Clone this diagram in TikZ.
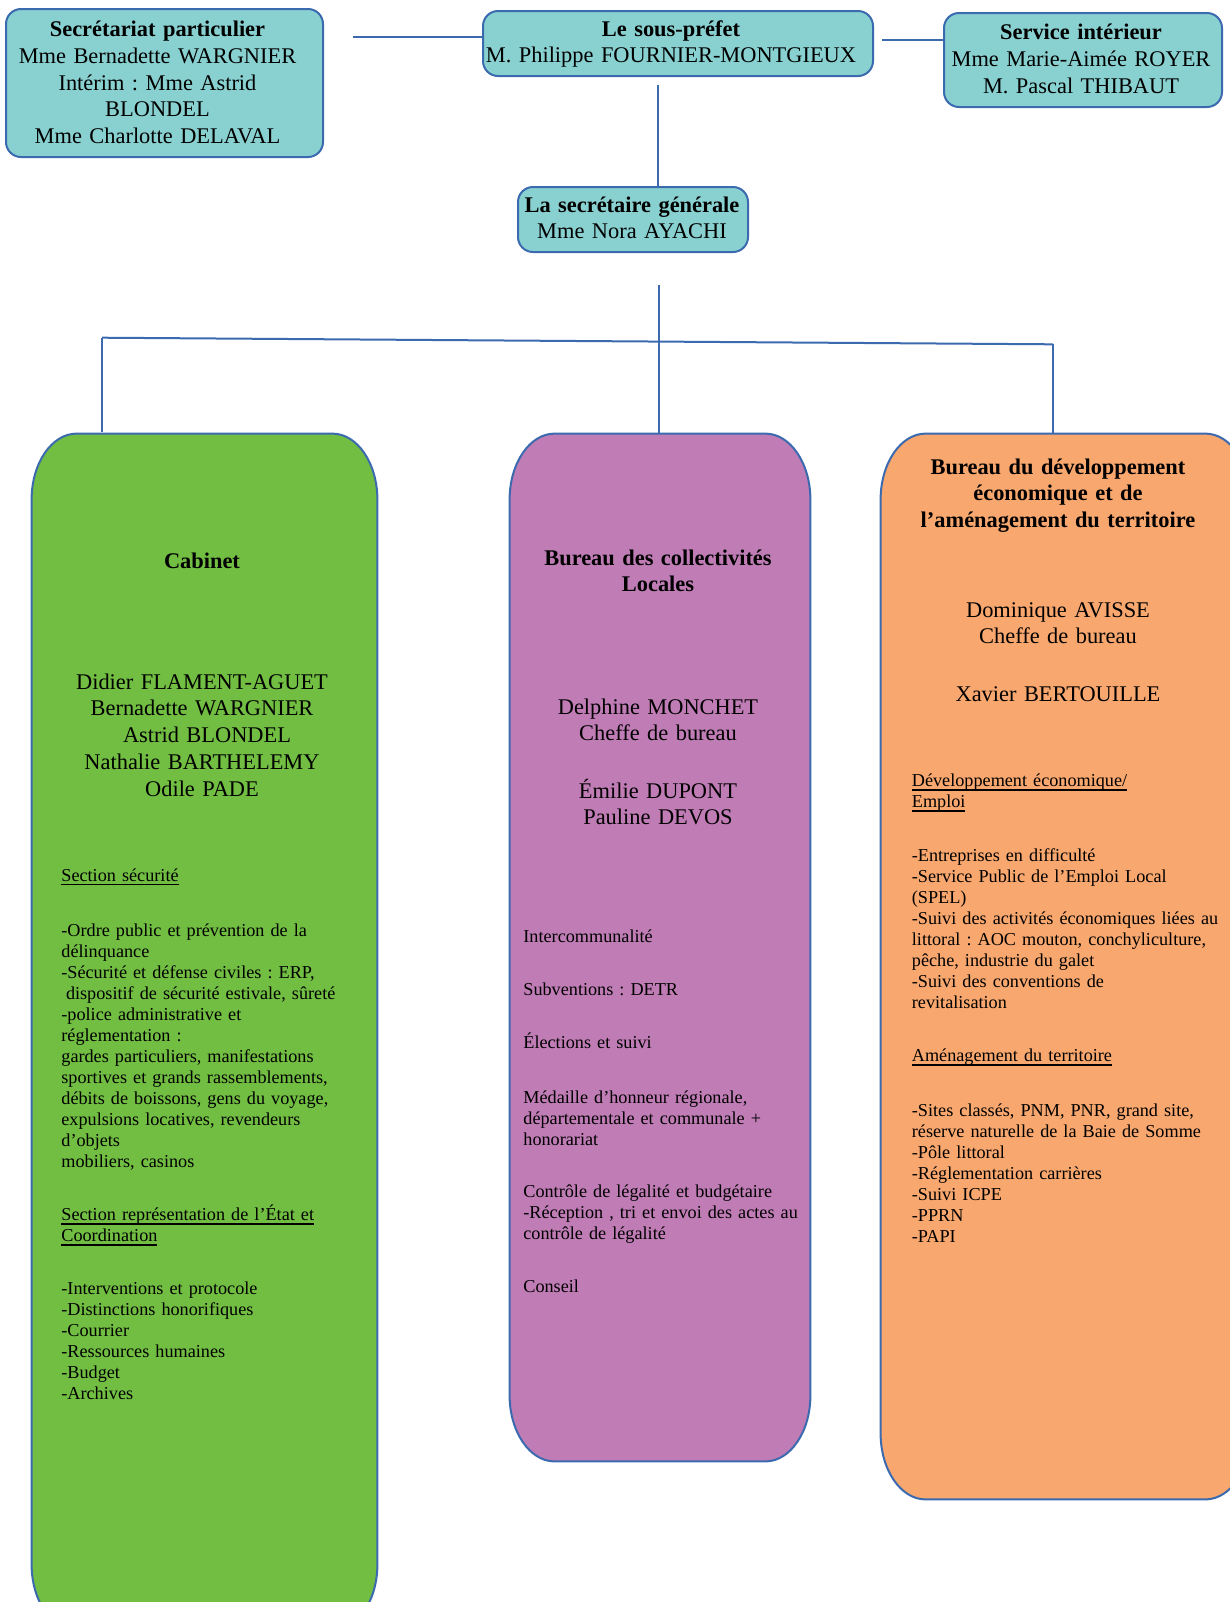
\documentclass[tikz,border=0pt]{standalone}
\usepackage{fontspec}
\setmainfont{Liberation Serif}
\frenchspacing
\definecolor{trait}{HTML}{3B6AAF}
\definecolor{bleuchef}{HTML}{89D1D0}
\definecolor{vertcab}{HTML}{71BE43}
\definecolor{violetcol}{HTML}{BF7CB5}
\definecolor{orangeter}{HTML}{F8A76E}
\newcommand{\grand}{\fontsize{11.2pt}{13.4pt}\selectfont}
\newcommand{\petit}{\fontsize{9.1pt}{10.5pt}\selectfont}
\newcommand{\rubrique}[1]{\setbox0=\hbox{#1}\leavevmode\rlap{\rule[-2pt]{\wd0}{0.65pt}}\box0}
\newcommand{\bureau}[2]{
  \draw[line width=1pt, draw=trait, fill=#2]
    ([xshift=22.5pt]#1.north west) -- ([xshift=-22.5pt]#1.north east)
    arc[start angle=90, end angle=0, x radius=22.5pt, y radius=33pt]
    -- ([yshift=33pt]#1.south east)
    arc[start angle=0, end angle=-90, x radius=22.5pt, y radius=33pt]
    -- ([xshift=22.5pt]#1.south west)
    arc[start angle=270, end angle=180, x radius=22.5pt, y radius=33pt]
    -- ([yshift=-33pt]#1.north west)
    arc[start angle=180, end angle=90, x radius=22.5pt, y radius=33pt]
    -- cycle;
}
\tikzset{
  chef/.style={draw=trait, line width=1pt, fill=bleuchef, rounded corners=7.5pt, inner sep=0pt},
  zone/.style={inner sep=0pt},
  titre/.style={font=\grand, text width=#1, align=center, anchor=base, inner sep=0pt},
  titre/.default=160pt,
  liste/.style={font=\petit, text width=#1, align=left, anchor=base west, inner sep=0pt},
  liste/.default=150pt,
  lien/.style={draw=trait, line width=1pt},
  fil/.style={draw=trait, line width=0.7pt}
}

\begin{document}
\begin{tikzpicture}[x=0.5pt, y=-0.5pt]
	\useasboundingbox (0,0) rectangle (1230,1602);
	\clip (0,0) rectangle (1230,1602);
	% direction
	\node[chef, minimum width=158.5pt, minimum height=74pt] (secp) at (164.5,83) {};
	\node[titre=150pt] (secp-t) at (157.5,36.5) {\textbf{Secrétariat particulier}\\Mme Bernadette WARGNIER\\Intérim : Mme Astrid\\BLONDEL\\Mme Charlotte DELAVAL};
	\node[chef, minimum width=195pt, minimum height=32.5pt] (spf) at (678,43.5) {};
	\node[titre=190pt] (spf-t) at (671,36) {\textbf{Le sous-préfet}\\M. Philippe FOURNIER-MONTGIEUX};
	\node[chef, minimum width=139pt, minimum height=47pt] (servi) at (1083,60) {};
	\node[titre=135pt] (servi-t) at (1081,39.5) {\textbf{Service intérieur}\\Mme Marie-Aimée ROYER\\M. Pascal THIBAUT};
	\node[chef, minimum width=115pt, minimum height=32.5pt] (sg) at (633,219.5) {};
	\node[titre=112pt] (sg-t) at (632,212) {\textbf{La secrétaire générale}\\Mme Nora AYACHI};
	% bureaux
	\node[zone, minimum width=172.5pt, minimum height=598pt] (cab) at (204.5,1032) {};
	\node[zone, minimum width=150pt, minimum height=513.5pt] (bcl) at (660,947.5) {};
	\node[zone, minimum width=184.5pt, minimum height=532.5pt] (bdeat) at (1065.5,966.5) {};
	\bureau{cab}{vertcab}
	\bureau{bcl}{violetcol}
	\bureau{bdeat}{orangeter}
	% liens
	\coordinate (secp-l) at (353,37);
	\draw[lien] (secp-l) -- (secp-l -| spf.west);
	\coordinate (servi-l) at (882,40);
	\draw[lien] (servi-l) -- (servi-l -| servi.west);
	\coordinate (spf-b) at (658,85);
	\draw[lien] (spf-b) -- (spf-b |- sg.north);
	\coordinate (sg-b) at (659,285);
	\draw[fil] (sg-b) -- (sg-b |- bcl.north);
	\coordinate (bus-g) at (102,337.7);
	\coordinate (bus-d) at (1053,344.3);
	\draw[lien] (bus-g) -- (bus-d);
	\draw[fil] (bus-g) -- ([yshift=1pt]bus-g |- cab.north);
	\draw[fil] (bus-d) -- (bus-d |- bdeat.north);
	% cabinet
	\node[titre] (cab-t) at (202,568) {\textbf{Cabinet}};
	\node[titre] (cab-n) at (202,689) {Didier FLAMENT-AGUET\\Bernadette WARGNIER\\\hspace*{5pt}Astrid BLONDEL\\Nathalie BARTHELEMY\\Odile PADE};
	\node[liste] (cab-s1) at (61,881) {\rubrique{Section sécurité}};
	\node[liste] (cab-l1) at (61,936) {-Ordre public et prévention de la\\délinquance\\-Sécurité et défense civiles : ERP,\\\hspace*{2.3pt}dispositif de sécurité estivale, sûreté\\-police administrative et\\réglementation :\\gardes particuliers, manifestations\\sportives et grands rassemblements,\\débits de boissons, gens du voyage,\\expulsions locatives, revendeurs\\d’objets\\mobiliers, casinos};
	\node[liste] (cab-s2) at (61,1220.5) {\rubrique{Section représentation de l’État et}\\\rubrique{Coordination}};
	\node[liste] (cab-l2) at (61,1294) {-Interventions et protocole\\-Distinctions honorifiques\\-Courrier\\-Ressources humaines\\-Budget\\-Archives};
	% collectivites locales
	\node[titre=145pt] (bcl-t) at (658,565) {\textbf{Bureau des collectivités}\\\textbf{Locales}};
	\node[titre=145pt] (bcl-n1) at (658,714) {Delphine MONCHET\\Cheffe de bureau};
	\node[titre=145pt] (bcl-n2) at (658,798) {Émilie DUPONT\\Pauline DEVOS};
	\node[liste=140pt] (bcl-a) at (523,942) {Intercommunalité};
	\node[liste=140pt] (bcl-b) at (523,995) {Subventions : DETR};
	\node[liste=140pt] (bcl-c) at (523,1048) {Élections et suivi};
	\node[liste=140pt] (bcl-d) at (523,1103) {Médaille d’honneur régionale,\\départementale et communale +\\honorariat};
	\node[liste=140pt] (bcl-e) at (523,1197) {Contrôle de légalité et budgétaire\\-Réception , tri et envoi des actes au\\contrôle de légalité};
	\node[liste=140pt] (bcl-f) at (523,1292) {Conseil};
	% developpement economique
	\node[titre=175pt] (bdeat-t) at (1058,474) {\textbf{Bureau du développement}\\\textbf{économique et de}\\\textbf{l’aménagement du territoire}};
	\node[titre=175pt] (bdeat-n1) at (1058,617) {Dominique AVISSE\\Cheffe de bureau};
	\node[titre=175pt] (bdeat-n2) at (1058,701.5) {Xavier BERTOUILLE};
	\node[liste=160pt] (bdeat-s1) at (911.5,786.5) {\rubrique{Développement économique/}\\\rubrique{Emploi}};
	\node[liste=160pt] (bdeat-l1) at (911.5,861.5) {-Entreprises en difficulté\\-Service Public de l’Emploi Local\\(SPEL)\\-Suivi des activités économiques liées au\\littoral : AOC mouton, conchyliculture,\\pêche, industrie du galet\\-Suivi des conventions de\\revitalisation};
	\node[liste=160pt] (bdeat-s2) at (911.5,1061.5) {\rubrique{Aménagement du territoire}};
	\node[liste=160pt] (bdeat-l2) at (911.5,1116) {-Sites classés, PNM, PNR, grand site,\\réserve naturelle de la Baie de Somme\\-Pôle littoral\\-Réglementation carrières\\-Suivi ICPE\\-PPRN\\-PAPI};
\end{tikzpicture}
\end{document}
